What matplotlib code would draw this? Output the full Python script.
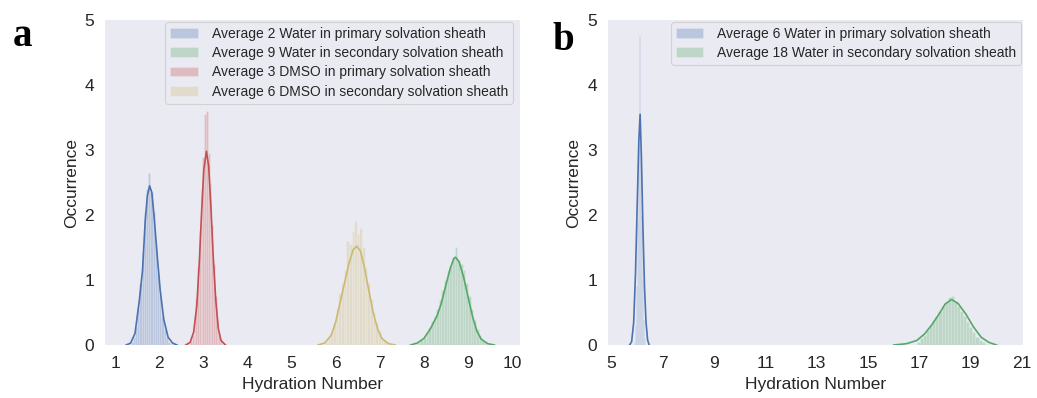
import numpy as np
import matplotlib
matplotlib.use('Agg')
import matplotlib.pyplot as plt

# colour codes (seaborn "deep")
BLUE = '#4C72B0'
GREEN = '#55A868'
RED = '#C44E52'
YELLOW = '#CCB974'

# ---- panel a : water / DMSO around the cation ----
a_labels = ['Average 2 Water in primary solvation sheath',
            'Average 9 Water in secondary solvation sheath',
            'Average 3 DMSO in primary solvation sheath',
            'Average 6 DMSO in secondary solvation sheath']

# histogram bins: first centre, bin width, heights
a_blue_hist = (1.325, 0.05, [0.01, 0.04, 0.12, 0.28, 0.55, 0.95, 1.45, 2.05, 2.40, 2.65,
                             2.35, 2.05, 1.55, 1.10, 0.75, 0.45, 0.25, 0.12, 0.05, 0.02])
a_red_hist = (2.68, 0.04, [0.02, 0.06, 0.15, 0.35, 0.70, 1.20, 1.75, 2.40, 2.90, 3.55,
                           3.60, 2.95, 2.50, 1.85, 1.25, 0.75, 0.40, 0.18, 0.07, 0.02])
a_yellow_hist = (5.73, 0.06, [0.02, 0.05, 0.10, 0.20, 0.35, 0.55, 0.80, 0.95, 1.15, 1.60,
                              1.55, 1.75, 1.90, 1.70, 1.80, 1.50, 1.20, 0.95, 0.70, 0.50,
                              0.35, 0.22, 0.13, 0.07, 0.04, 0.02])
a_green_hist = (7.83, 0.06, [0.02, 0.04, 0.08, 0.13, 0.20, 0.28, 0.37, 0.45, 0.55, 0.70,
                             0.85, 1.00, 1.15, 1.22, 1.35, 1.50, 1.30, 1.25, 1.15, 0.95,
                             0.75, 0.55, 0.38, 0.25, 0.15, 0.08, 0.04, 0.02])

# density curves (x, y)
a_blue_kde_x = [1.25, 1.35, 1.45, 1.55, 1.62, 1.68, 1.73, 1.78, 1.83, 1.88, 1.95, 2.02, 2.10, 2.20, 2.30, 2.40]
a_blue_kde_y = [0.0, 0.03, 0.18, 0.70, 1.15, 1.90, 2.30, 2.45, 2.35, 2.00, 1.40, 0.85, 0.40, 0.12, 0.03, 0.0]
a_red_kde_x = [2.60, 2.70, 2.78, 2.85, 2.91, 2.96, 3.01, 3.07, 3.12, 3.17, 3.22, 3.28, 3.34, 3.40, 3.50]
a_red_kde_y = [0.0, 0.04, 0.20, 0.60, 1.30, 2.05, 2.70, 2.98, 2.75, 2.15, 1.40, 0.70, 0.25, 0.07, 0.0]
a_yellow_kde_x = [5.60, 5.75, 5.90, 6.00, 6.10, 6.20, 6.30, 6.40, 6.48, 6.56, 6.65, 6.75, 6.85, 6.95, 7.05, 7.20, 7.35]
a_yellow_kde_y = [0.0, 0.03, 0.15, 0.35, 0.65, 0.95, 1.25, 1.47, 1.52, 1.45, 1.20, 0.85, 0.50, 0.25, 0.10, 0.02, 0.0]
a_green_kde_x = [7.70, 7.85, 8.00, 8.15, 8.30, 8.40, 8.50, 8.60, 8.68, 8.72, 8.80, 8.90, 9.00, 9.10, 9.20, 9.30, 9.45, 9.60]
a_green_kde_y = [0.0, 0.03, 0.10, 0.25, 0.45, 0.65, 0.92, 1.18, 1.33, 1.35, 1.28, 1.05, 0.75, 0.45, 0.22, 0.09, 0.02, 0.0]

# ---- panel b : water only ----
b_labels = ['Average 6 Water in primary solvation sheath',
            'Average 18 Water in secondary solvation sheath']

b_blue_hist = (5.90, 0.04, [0.05, 0.30, 0.90, 1.90, 3.10, 4.75, 3.00, 2.00, 1.00, 0.40, 0.10])
b_green_hist = (16.96, 0.12, [0.05, 0.10, 0.16, 0.23, 0.30, 0.38, 0.45, 0.52, 0.60, 0.66,
                              0.74, 0.75, 0.66, 0.60, 0.52, 0.44, 0.35, 0.27, 0.20, 0.13,
                              0.08, 0.04, 0.02])

b_blue_kde_x = [5.72, 5.80, 5.88, 5.95, 6.02, 6.08, 6.13, 6.18, 6.24, 6.30, 6.36, 6.42, 6.48]
b_blue_kde_y = [0.0, 0.05, 0.35, 1.10, 2.20, 3.15, 3.55, 2.90, 1.80, 0.90, 0.35, 0.08, 0.0]
b_green_kde_x = [16.0, 16.5, 16.9, 17.2, 17.5, 17.8, 18.0, 18.25, 18.5, 18.8, 19.1, 19.4, 19.7, 20.0]
b_green_kde_y = [0.0, 0.02, 0.07, 0.17, 0.32, 0.50, 0.63, 0.70, 0.64, 0.48, 0.28, 0.12, 0.04, 0.0]

plt.rcParams['font.family'] = ['Liberation Sans', 'DejaVu Sans']
plt.rcParams['text.color'] = '.15'
plt.rcParams['axes.labelcolor'] = '.15'
plt.rcParams['xtick.color'] = '.15'
plt.rcParams['ytick.color'] = '.15'

FONTSIZE = 12.5


def draw_dist(ax, hist, kde_x, kde_y, color, label):
    start, width, heights = hist
    centres = start + width * np.arange(len(heights))
    ax.bar(centres, heights, width=width, color=color, alpha=0.3,
           edgecolor='white', linewidth=0.4, label=label)
    ax.plot(kde_x, kde_y, color=color, lw=1.2)


def style_axes(ax, xlim, xticks):
    ax.set_facecolor('#EAEAF2')
    for s in ax.spines.values():
        s.set_visible(False)
    ax.set_xlim(xlim)
    ax.set_ylim(0, 5)
    ax.set_xticks(xticks)
    ax.set_yticks([0, 1, 2, 3, 4, 5])
    ax.tick_params(length=0, labelsize=FONTSIZE, pad=8)
    ax.set_xlabel('Hydration Number', fontsize=FONTSIZE, labelpad=4)
    ax.set_ylabel('Occurrence', fontsize=FONTSIZE, labelpad=4)


fig = plt.figure(figsize=(10.37, 3.98), dpi=100)
ax1 = fig.add_axes([0.1013, 0.1332, 0.4001, 0.8165])
ax2 = fig.add_axes([0.5863, 0.1332, 0.4002, 0.8165])

draw_dist(ax1, a_blue_hist, a_blue_kde_x, a_blue_kde_y, BLUE, a_labels[0])
draw_dist(ax1, a_green_hist, a_green_kde_x, a_green_kde_y, GREEN, a_labels[1])
draw_dist(ax1, a_red_hist, a_red_kde_x, a_red_kde_y, RED, a_labels[2])
draw_dist(ax1, a_yellow_hist, a_yellow_kde_x, a_yellow_kde_y, YELLOW, a_labels[3])
style_axes(ax1, (0.77, 10.18), range(1, 11))

draw_dist(ax2, b_blue_hist, b_blue_kde_x, b_blue_kde_y, BLUE, b_labels[0])
draw_dist(ax2, b_green_hist, b_green_kde_x, b_green_kde_y, GREEN, b_labels[1])
style_axes(ax2, (4.88, 21.03), range(5, 22, 2))

for ax, anchor_x in ((ax1, 0.983), (ax2, 0.996)):
    leg = ax.legend(loc='upper right', bbox_to_anchor=(anchor_x, 0.994), fontsize=10,
                    frameon=True, fancybox=True, borderaxespad=0, borderpad=0.35,
                    handletextpad=1.0, labelspacing=0.38)
    leg.get_frame().set_facecolor('#EAEAF2')
    leg.get_frame().set_edgecolor('0.8')
    leg.get_frame().set_linewidth(0.8)

fig.text(0.012, 0.884, 'a', family=['Liberation Serif', 'DejaVu Serif'],
         fontweight='bold', fontsize=28, color='black')
fig.text(0.533, 0.874, 'b', family=['Liberation Serif', 'DejaVu Serif'],
         fontweight='bold', fontsize=28, color='black')

fig.savefig('out.png', dpi=100)
